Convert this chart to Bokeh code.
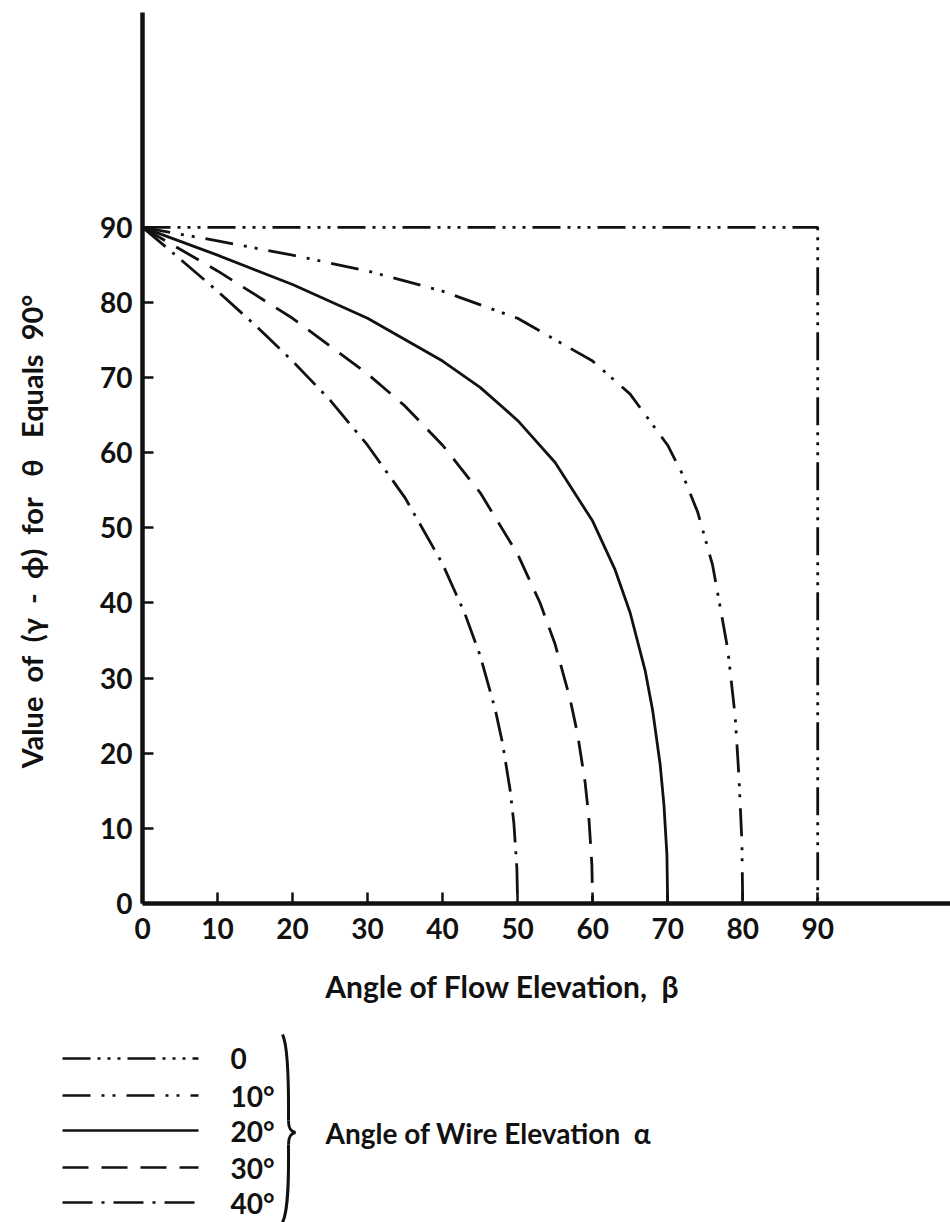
import math
from bokeh.plotting import figure
from bokeh.layouts import column, row
from bokeh.models import Range1d, FixedTicker
from bokeh.embed import file_html
from bokeh.resources import INLINE
from bokeh.core.properties import value

# ---------------- data ----------------
alpha_labels = ["0", "10°", "20°", "30°", "40°"]

beta_a0 = [0, 90, 90]
gp_a0 = [90, 90, 0]

beta_a10 = [0, 10, 20, 30, 40, 50, 60, 65, 70, 72, 74, 76, 78, 79, 79.5, 79.9, 80]
gp_a10 = [90, 88.2, 86.3, 84.2, 81.5, 77.9, 72.2, 67.8, 61.0, 57.1, 52.1, 45.0, 33.9, 24.9, 16.9, 8.1, 0]

beta_a20 = [0, 10, 20, 30, 40, 45, 50, 55, 60, 63, 65, 67, 68, 69, 69.5, 69.9, 70]
gp_a20 = [90, 86.3, 82.4, 77.9, 72.2, 68.7, 64.3, 58.7, 50.9, 44.4, 38.7, 31.0, 25.7, 18.5, 13.2, 6.5, 0]

beta_a30 = [0, 10, 20, 30, 35, 40, 45, 50, 53, 55, 57, 58, 59, 59.5, 59.9, 60]
gp_a30 = [90, 84.2, 77.9, 70.5, 66.2, 61.0, 54.7, 46.5, 40.0, 34.5, 27.2, 22.5, 16.1, 11.4, 5.1, 0]

beta_a40 = [0, 5, 10, 15, 20, 25, 30, 35, 40, 43, 45, 47, 48, 49, 49.5, 49.9, 50]
gp_a40 = [90, 85.8, 81.5, 77.0, 72.2, 67.0, 61.0, 54.0, 45.2, 38.5, 33.0, 25.9, 21.3, 15.1, 10.7, 4.75, 0]

x_ticks = [0, 10, 20, 30, 40, 50, 60, 70, 80, 90]
y_ticks = [0, 10, 20, 30, 40, 50, 60, 70, 80, 90]

NB = "\u00a0"
x_title = "Angle of Flow Elevation," + NB * 2 + "β"
y_title = ("Value" + NB + " of" + NB + " (γ" + NB + " -" + NB + " ϕ)" + NB +
           " for" + NB + " " + NB + "θ" + NB + " " + NB + "Equals" + NB + " 90°")
legend_title = "Angle of Wire Elevation" + NB + " α"

# ---------------- styles ----------------
FONT = "Lato"
INK = "#111111"
dashes = ["28 7 3 7 3 7 3 7", "28 11 3 8 3 11", "solid", "26 13", "30 9 3 9"]
series = [(beta_a0, gp_a0), (beta_a10, gp_a10), (beta_a20, gp_a20),
          (beta_a30, gp_a30), (beta_a40, gp_a40)]

W_LEFT = 70
MAIN_W = 950 - W_LEFT
MAIN_H = 960

# ---------------- left strip: y-axis title ----------------
fy = figure(width=W_LEFT, height=MAIN_H, x_range=Range1d(0, W_LEFT),
            y_range=Range1d(MAIN_H, 0), output_backend="svg",
            toolbar_location=None, x_axis_type=None, y_axis_type=None,
            min_border=0)
fy.outline_line_color = None
fy.grid.visible = False
fy.text(x=[31], y=[560], text=[y_title], angle=math.pi / 2,
        text_align="center", text_baseline="middle",
        text_font=value(FONT), text_font_size="29px", text_font_style="bold",
        text_color=INK)

# ---------------- main chart ----------------
p = figure(width=MAIN_W, height=MAIN_H,
           x_range=Range1d(0, 107.7), y_range=Range1d(0, 118.6),
           output_backend="svg", toolbar_location=None,
           min_border_left=72, min_border_right=0, min_border_top=12,
           min_border_bottom=MAIN_H - 903)
p.outline_line_color = None
p.grid.visible = False

for (bx, gy), dash in zip(series, dashes):
    p.line(bx, gy, line_color=INK, line_width=2.8, line_dash=dash)

for ax in (p.xaxis[0], p.yaxis[0]):
    ax.axis_line_width = 4.5
    ax.axis_line_color = INK
    ax.major_tick_in = 11
    ax.major_tick_out = 0
    ax.major_tick_line_width = 2.5
    ax.major_tick_line_color = INK
    ax.minor_tick_line_color = None
    ax.major_label_text_font = FONT
    ax.major_label_text_font_size = "28px"
    ax.major_label_text_font_style = "bold"
    ax.major_label_text_color = INK

p.xaxis.ticker = FixedTicker(ticks=x_ticks)
p.yaxis.ticker = FixedTicker(ticks=y_ticks)
p.xaxis.major_label_standoff = 14
p.yaxis.major_label_standoff = 10

# ---------------- bottom: x title and legend ----------------
BOT_H = 1222 - MAIN_H
fb = figure(width=950, height=BOT_H, x_range=Range1d(0, 950),
            y_range=Range1d(1222, MAIN_H), output_backend="svg",
            toolbar_location=None, x_axis_type=None, y_axis_type=None,
            min_border=0)
fb.outline_line_color = None
fb.grid.visible = False

fb.text(x=[502], y=[985], text=[x_title], text_align="center",
        text_baseline="middle", text_font=value(FONT),
        text_font_size="30px", text_font_style="bold", text_color=INK)

row_y = [1058, 1095, 1130, 1167, 1202]
for yy, dash in zip(row_y, dashes):
    fb.line([62, 198], [yy, yy], line_color=INK, line_width=2.6, line_dash=dash)
fb.text(x=[230] * len(alpha_labels), y=row_y, text=alpha_labels,
        text_align="left", text_baseline="middle", text_font=value(FONT),
        text_font_size="28px", text_font_style="bold", text_color=INK)

# curly brace
fb.bezier(x0=[282, 288, 295, 288], y0=[1034, 1120, 1132, 1144],
          x1=[288, 295, 288, 282], y1=[1120, 1132, 1144, 1222],
          cx0=[289, 288, 290, 288], cy0=[1048, 1128, 1133, 1165],
          cx1=[288, 290, 288, 289], cy1=[1100, 1131, 1136, 1208],
          line_color=INK, line_width=3)

fb.text(x=[325], y=[1132], text=[legend_title], text_align="left",
        text_baseline="middle", text_font=value(FONT),
        text_font_size="28px", text_font_style="bold", text_color=INK)

layout = column(row(fy, p), fb)
open("out.html", "w").write(file_html(layout, INLINE))
